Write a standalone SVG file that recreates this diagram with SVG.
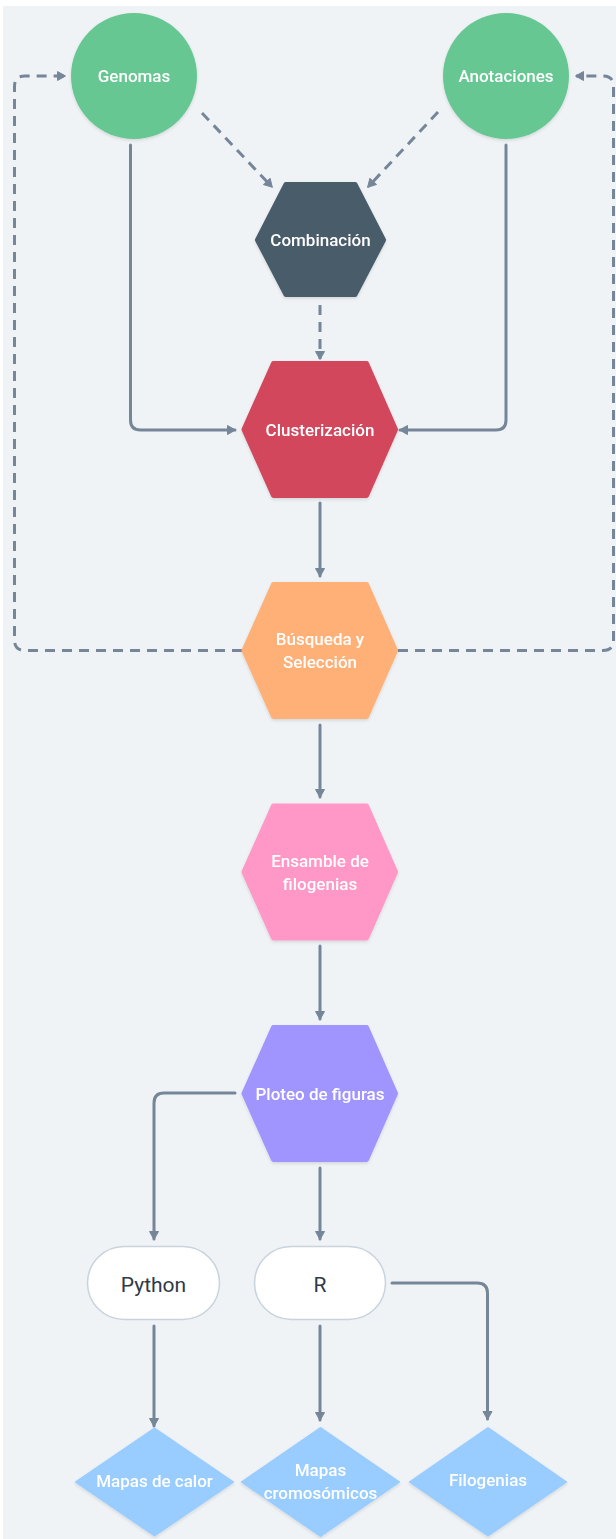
<svg xmlns="http://www.w3.org/2000/svg" width="616" height="1539" viewBox="0 0 616 1539">
<style>
.lbl{font-family:Roboto,"Liberation Sans",sans-serif;font-weight:500;font-size:17px;fill:#ffffff;text-anchor:middle}
.pl{font-family:Roboto,"Liberation Sans",sans-serif;font-weight:400;font-size:21px;fill:#2E3A46;text-anchor:middle}
.c{fill:none;stroke:#768699;stroke-width:3;stroke-linecap:round;stroke-linejoin:round}
.d{stroke-dasharray:10 7;stroke-linecap:butt}
.hex{stroke-width:5;stroke-linejoin:round}
</style>
<defs>
<marker id="ah" markerUnits="userSpaceOnUse" markerWidth="12" markerHeight="12" refX="9" refY="6" orient="auto">
<path d="M1.5,1.5 L9.5,6 L1.5,10.5 Z" fill="#768699" stroke="#768699" stroke-width="1" stroke-linejoin="round"/>
</marker>
<filter id="sh" x="-10%" y="-10%" width="120%" height="125%">
<feDropShadow dx="0" dy="1.5" stdDeviation="1.5" flood-color="#000" flood-opacity="0.12"/>
</filter>
</defs>
<rect x="0" y="0" width="616" height="1539" fill="#ffffff"/>
<rect x="3" y="6" width="613" height="1533" fill="#EFF3F6"/>

<g id="connectors">
<path class="c d" d="M202,113 L272,187" marker-end="url(#ah)"/>
<path class="c d" d="M438,112 L368,187" marker-end="url(#ah)"/>
<path class="c d" d="M320,305 V359" marker-end="url(#ah)"/>
<path class="c" d="M130.5,145 V420 Q130.5,430 140.5,430 H235" marker-end="url(#ah)"/>
<path class="c" d="M506,145 V420 Q506,430 496,430 H400" marker-end="url(#ah)"/>
<path class="c" d="M320,503 V576" marker-end="url(#ah)"/>
<path class="c d" d="M242,650.5 H25 Q14.5,650.5 14.5,640 V86.5 Q14.5,76 25,76 H65" marker-end="url(#ah)"/>
<path class="c d" d="M398,650.5 H603 Q613.5,650.5 613.5,640 V86.5 Q613.5,76 603,76 H576" marker-end="url(#ah)"/>
<path class="c" d="M320,725 V797" marker-end="url(#ah)"/>
<path class="c" d="M320,946 V1019" marker-end="url(#ah)"/>
<path class="c" d="M235,1093 H164 Q154,1093 154,1103 V1239" marker-end="url(#ah)"/>
<path class="c" d="M320,1168 V1239" marker-end="url(#ah)"/>
<path class="c" d="M154,1326 V1426" marker-end="url(#ah)"/>
<path class="c" d="M320,1326 V1420" marker-end="url(#ah)"/>
<path class="c" d="M392,1283 H477 Q487.5,1283 487.5,1293 V1419" marker-end="url(#ah)"/>
</g>

<g id="genomas" filter="url(#sh)">
<circle cx="134" cy="76" r="63" fill="#66C792"/>
<text class="lbl" x="134" y="82">Genomas</text>
</g>
<g id="anotaciones" filter="url(#sh)">
<circle cx="506" cy="76" r="63" fill="#66C792"/>
<text class="lbl" x="506" y="82">Anotaciones</text>
</g>
<g id="combinacion" filter="url(#sh)">
<polygon class="hex" points="257.5,240 286,184.5 355,184.5 383.5,240 355,294.5 286,294.5" fill="#4A5B6B" stroke="#4A5B6B"/>
<text class="lbl" x="320.5" y="246">Combinación</text>
</g>
<g id="clusterizacion" filter="url(#sh)">
<polygon class="hex" points="244,429.5 273.5,363.5 366.5,363.5 395.5,429.5 366.5,495.5 273.5,495.5" fill="#D2465B" stroke="#D2465B"/>
<text class="lbl" x="320" y="436">Clusterización</text>
</g>
<g id="busqueda" filter="url(#sh)">
<polygon class="hex" points="244,650.5 273.5,584.5 366.5,584.5 395.5,650.5 366.5,716.5 273.5,716.5" fill="#FFB077" stroke="#FFB077"/>
<text class="lbl" x="320" y="645">Búsqueda y</text>
<text class="lbl" x="320" y="668">Selección</text>
</g>
<g id="ensamble" filter="url(#sh)">
<polygon class="hex" points="244,872 273.5,806 366.5,806 395.5,872 366.5,938 273.5,938" fill="#FF97C7" stroke="#FF97C7"/>
<text class="lbl" x="320" y="867">Ensamble de</text>
<text class="lbl" x="320" y="890">filogenias</text>
</g>
<g id="ploteo" filter="url(#sh)">
<polygon class="hex" points="244,1093.5 273.5,1027.5 366.5,1027.5 395.5,1093.5 366.5,1159.5 273.5,1159.5" fill="#A094FF" stroke="#A094FF"/>
<text class="lbl" x="320" y="1100">Ploteo de figuras</text>
</g>
<g id="python">
<rect x="87.5" y="1246.5" width="132" height="73" rx="36.5" fill="#ffffff" stroke="#C9D3DD" stroke-width="1.5"/>
<text class="pl" x="153.5" y="1292">Python</text>
</g>
<g id="r">
<rect x="254.5" y="1246.5" width="131" height="73" rx="36.5" fill="#ffffff" stroke="#C9D3DD" stroke-width="1.5"/>
<text class="pl" x="320" y="1292">R</text>
</g>
<g id="mapas-calor" filter="url(#sh)">
<polygon points="76,1482 154.5,1428.5 233,1482 154.5,1535.5" fill="#99CCFF" stroke="#99CCFF" stroke-width="2" stroke-linejoin="round"/>
<text class="lbl" x="154.5" y="1487">Mapas de calor</text>
</g>
<g id="mapas-cromosomicos" filter="url(#sh)">
<polygon points="242,1482 320.5,1428 399,1482 320.5,1536" fill="#99CCFF" stroke="#99CCFF" stroke-width="2" stroke-linejoin="round"/>
<text class="lbl" x="320.5" y="1476">Mapas</text>
<text class="lbl" x="320.5" y="1499">cromosómicos</text>
</g>
<g id="filogenias" filter="url(#sh)">
<polygon points="410,1482 488,1428 566,1482 488,1535.5" fill="#99CCFF" stroke="#99CCFF" stroke-width="2" stroke-linejoin="round"/>
<text class="lbl" x="488" y="1486">Filogenias</text>
</g>
</svg>
